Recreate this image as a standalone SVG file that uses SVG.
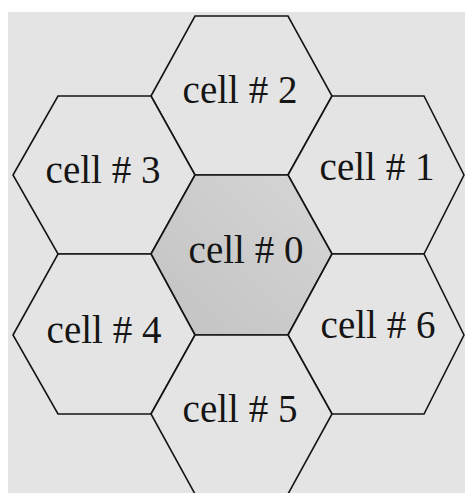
<svg xmlns="http://www.w3.org/2000/svg" width="465" height="493" viewBox="0 0 465 493">
<defs>
<linearGradient id="g0" x1="1" y1="0" x2="0" y2="1">
<stop offset="0" stop-color="#d6d6d6"/>
<stop offset="1" stop-color="#c2c2c2"/>
</linearGradient>
</defs>
<style>
.hex{fill:#e4e4e4;stroke:#151515;stroke-width:1.6;stroke-linejoin:miter}
.center{fill:url(#g0)}
.lbl{font-family:"Liberation Serif","Times New Roman",serif;font-size:39px;fill:#151515;text-anchor:middle}
</style>
<rect x="0" y="0" width="465" height="493" fill="#ffffff"/>
<rect x="8" y="12" width="457" height="481" fill="#e4e4e4"/>
<g id="cell2">
<polygon class="hex" points="151,96 195,16 288,16 332,96 288,175 195,175"/>
<text class="lbl" x="240" y="103">cell # 2</text>
</g>
<g id="cell3">
<polygon class="hex" points="13,175 58,96 151,96 195,175 151,254 58,254"/>
<text class="lbl" x="103" y="183">cell # 3</text>
</g>
<g id="cell1">
<polygon class="hex" points="288,175 332,96 424,96 464,175 424,254 332,254"/>
<text class="lbl" x="377" y="180">cell # 1</text>
</g>
<g id="cell0">
<polygon class="hex center" points="151,254 195,175 288,175 332,254 288,335 195,335"/>
<text class="lbl" x="246" y="263">cell # 0</text>
</g>
<g id="cell4">
<polygon class="hex" points="13,335 58,254 151,254 195,335 151,414 58,414"/>
<text class="lbl" x="104" y="343">cell # 4</text>
</g>
<g id="cell6">
<polygon class="hex" points="288,335 332,254 424,254 464,335 424,414 332,414"/>
<text class="lbl" x="378" y="338">cell # 6</text>
</g>
<g id="cell5">
<polygon class="hex" points="151,414 195,335 288,335 332,414 288,494 195,494"/>
<text class="lbl" x="240" y="422">cell # 5</text>
</g>
<g id="connectors"></g>
</svg>
